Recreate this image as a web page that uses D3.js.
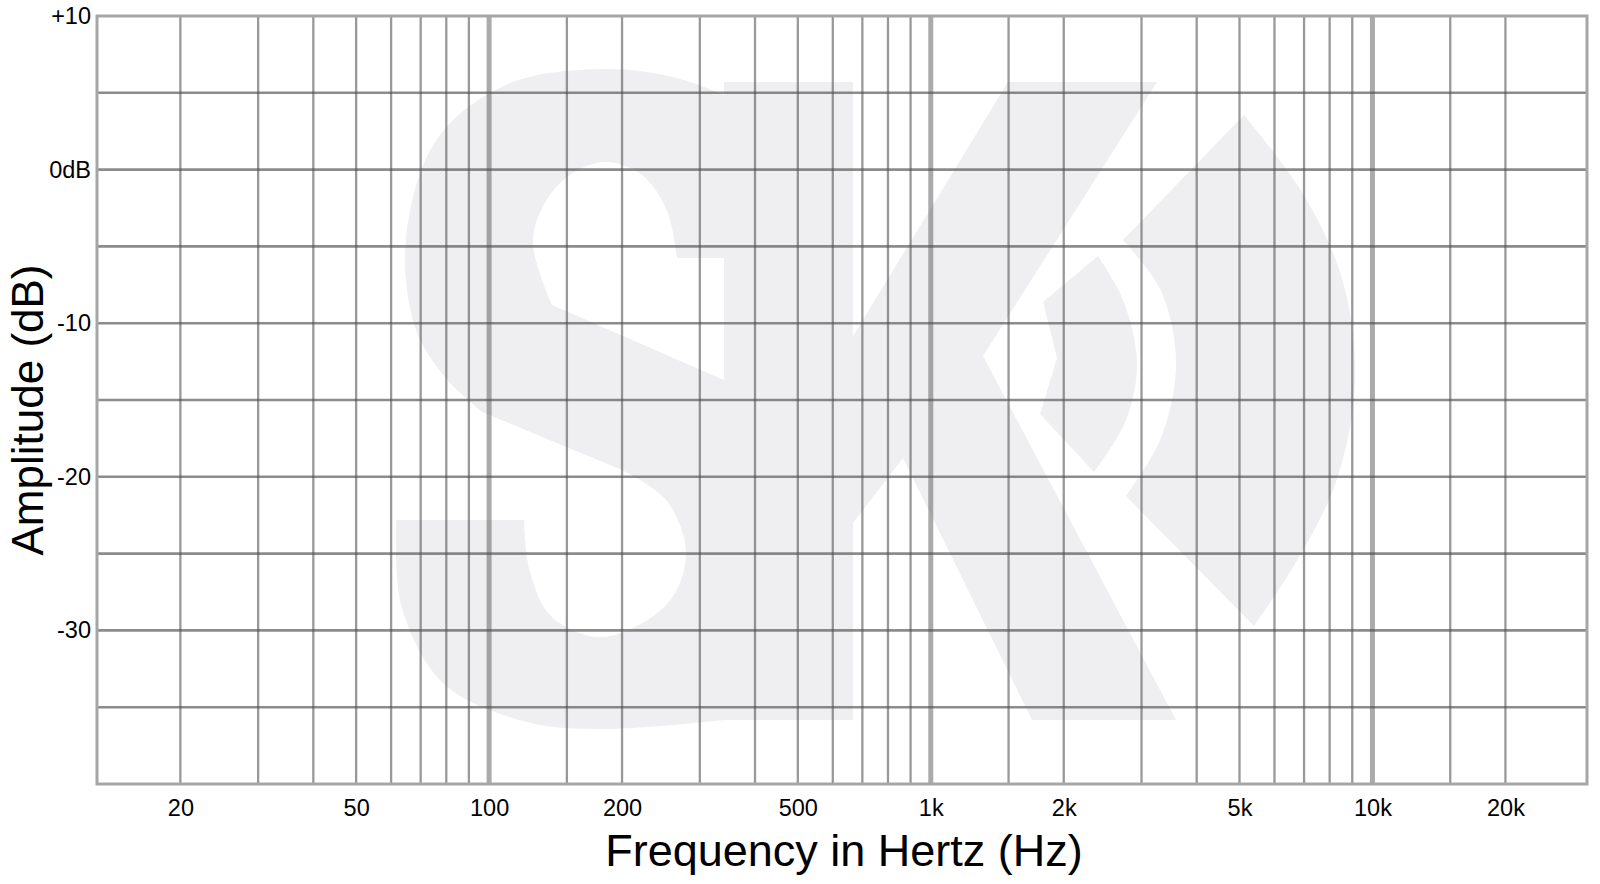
<!DOCTYPE html>
<html>
<head>
<meta charset="utf-8">
<script src="https://cdn.jsdelivr.net/npm/d3@7"></script>
<style>
  html, body { margin: 0; padding: 0; background: #fff; }
  svg { display: block; }
  text { font-family: "Liberation Sans", Arial, Helvetica, sans-serif; fill: #000; }
</style>
</head>
<body>
<svg id="chart" width="1600" height="884"></svg>
<script>
// ---------- data ----------
const gridFreqs = [20,30,40,50,60,70,80,90,100,150,200,300,400,500,600,700,800,900,
                   1000,1500,2000,3000,4000,5000,6000,7000,8000,9000,10000,15000,20000];
const majorFreqs = [100, 1000, 10000];
const xTickValues = [20, 50, 100, 200, 500, 1000, 2000, 5000, 10000, 20000];
const xTickLabels = ["20", "50", "100", "200", "500", "1k", "2k", "5k", "10k", "20k"];
const dbGridLines = [10, 5, 0, -5, -10, -15, -20, -25, -30, -35];
const yTickValues = [10, 0, -10, -20, -30];
const yTickLabels = ["+10", "0dB", "-10", "-20", "-30"];
const freqDomain = [12.95, 30600];
const dbDomain = [-40, 10];
const xTitle = "Frequency in Hertz (Hz)";
const yTitle = "Amplitude (dB)";

// watermark "SK" logo outline (logo-local units), runs joined by straight segments
const logoStem = [[329, 14], [458, 652]];
const logoS = [
  [[329,27],[278,9],[208,1],[113,16],[42,71],[11,170],[20,259],[49,308],[87,344]],
  [[227,402],[272,433],[291,487],[272,536],[208,569],[157,549],[135,504],[129,452]],
  [[1,452],[7,540],[49,616],[132,654],[208,661],[329,652]],
  [[329,312]],
  [[157,237],[138,170],[164,116],[208,94],[247,107],[272,143],[282,190]],
  [[329,190]]
];
const logoK = [
  [[613,14]],[[762,14]],[[588,288]],[[781,652]],[[637,652]],[[508,390]],[[458,455]],[[458,268]]
];
const logoCrescent = [
  [[849,47],[910,129],[948,214],[960,312],[942,411],[903,491],[859,558]],
  [[731,428],[766,370],[781,295],[766,223],[728,172]]
];
const logoLens = [
  [[703,188]],[[648,234]],[[662,290]],[[645,346]],
  [[699,404],[731,352],[742,295],[728,232],[703,188]]
];

// ---------- layout ----------
const svg = d3.select("#chart");
const plot = { left: 97, right: 1587, top: 16, bottom: 784 };

const x = d3.scaleLog().domain(freqDomain).range([plot.left, plot.right]);
const y = d3.scaleLinear().domain(dbDomain).range([plot.bottom, plot.top]);

// ---------- watermark ----------
function runsPath(runs) {
  const smooth = d3.line().curve(d3.curveCatmullRom.alpha(0.5));
  let d = "";
  runs.forEach((run, i) => {
    let seg;
    if (run.length === 1) seg = "M" + run[0][0] + "," + run[0][1];
    else seg = smooth(run);
    seg = seg.replace(/^M/, i === 0 ? "M" : "L");
    d += seg;
  });
  return d + "Z";
}
const logo = svg.append("g")
  .attr("transform", `translate(395,68)`)
  .attr("fill", "#efeff1");
logo.append("rect")
  .attr("x", logoStem[0][0]).attr("y", logoStem[0][1])
  .attr("width", logoStem[1][0] - logoStem[0][0])
  .attr("height", logoStem[1][1] - logoStem[0][1]);
[logoS, logoK, logoCrescent, logoLens].forEach(shape => {
  logo.append("path").attr("d", runsPath(shape));
});

// ---------- grid ----------
const grid = svg.append("g");
grid.selectAll("line.v")
  .data(gridFreqs)
  .join("line")
  .attr("class", "v")
  .attr("x1", d => x(d)).attr("x2", d => x(d))
  .attr("y1", plot.top).attr("y2", plot.bottom)
  .attr("stroke", "rgb(80,80,80)")
  .attr("stroke-opacity", d => majorFreqs.includes(d) ? 0.48 : 0.58)
  .attr("stroke-width", d => majorFreqs.includes(d) ? 5 : 2.3);

grid.selectAll("line.h")
  .data(dbGridLines.filter(d => d < dbDomain[1]))
  .join("line")
  .attr("class", "h")
  .attr("x1", plot.left).attr("x2", plot.right)
  .attr("y1", d => y(d)).attr("y2", d => y(d))
  .attr("stroke", "rgb(80,80,80)")
  .attr("stroke-opacity", 0.66)
  .attr("stroke-width", 2.6);

svg.append("rect")
  .attr("x", plot.left).attr("y", plot.top)
  .attr("width", plot.right - plot.left)
  .attr("height", plot.bottom - plot.top)
  .attr("fill", "none")
  .attr("stroke", "#a6a6a6")
  .attr("stroke-width", 3);

// ---------- axes ----------
const xAxis = d3.axisBottom(x)
  .tickValues(xTickValues)
  .tickFormat((d, i) => xTickLabels[i])
  .tickSize(0)
  .tickPadding(15);
const gx = svg.append("g")
  .attr("transform", `translate(0,${plot.bottom})`)
  .call(xAxis);
gx.select(".domain").remove();
gx.selectAll("text").style("font-size", "23.5px").attr("fill", "#000");

const yAxis = d3.axisLeft(y)
  .tickValues(yTickValues)
  .tickFormat((d, i) => yTickLabels[i])
  .tickSize(0)
  .tickPadding(6);
const gy = svg.append("g")
  .attr("transform", `translate(${plot.left},0)`)
  .call(yAxis);
gy.select(".domain").remove();
gy.selectAll("text").style("font-size", "23.5px").attr("fill", "#000");

// ---------- titles ----------
svg.append("text")
  .attr("x", 844).attr("y", 866)
  .attr("text-anchor", "middle")
  .style("font-size", "45px")
  .text(xTitle);

svg.append("text")
  .attr("transform", "translate(43,410) rotate(-90)")
  .attr("text-anchor", "middle")
  .style("font-size", "44px")
  .text(yTitle);
</script>
</body>
</html>
